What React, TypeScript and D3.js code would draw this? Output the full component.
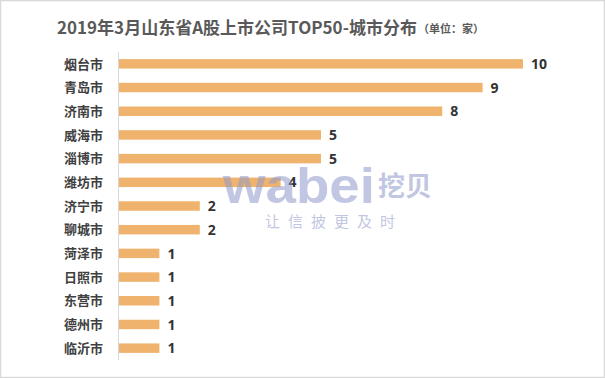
import React from "react";
import * as d3 from "d3";

const cities = ["烟台市", "青岛市", "济南市", "威海市", "淄博市", "潍坊市", "济宁市", "聊城市", "菏泽市", "日照市", "东营市", "德州市", "临沂市"];
const counts = [10, 9, 8, 5, 5, 4, 2, 2, 1, 1, 1, 1, 1];
const titleText = "2019年3月山东省A股上市公司TOP50-城市分布";
const unitText = "（单位：家）";

const W = 605;
const H = 378;
const left = 119;
const top = 52;
const bottom = 360;

export default function App() {
  const x = d3.scaleLinear().domain([0, 10]).range([left, 523]);
  const y = d3.scaleBand<string>().domain(cities).range([top, bottom]).paddingInner(0.6).paddingOuter(0.3);
  const font = "'Noto Sans CJK SC', 'Noto Sans', sans-serif";
  return (
    <svg width={W} height={H} style={{ position: "fixed", left: 0, top: 0 }} fontFamily={font}>
      <rect x={0.5} y={0.5} width={W - 1} height={H - 1} fill="#fff" stroke="#d9d9d9" strokeWidth={1.5} />
      <text x={57} y={34} fontSize={17} fontWeight="bold" fill="#595959">
        {titleText}
        <tspan fontSize={11} dx={1} dy={-1}>{unitText}</tspan>
      </text>
      {cities.map((c, i) => (
        <g key={c}>
          <rect x={x(0)} y={y(c)!} width={x(counts[i]) - x(0)} height={y.bandwidth()} fill="#EFB36D" />
          <text x={103} y={y(c)! + y.bandwidth() / 2} dy="0.36em" textAnchor="end" fontSize={13} fontWeight={600} fill="#404040">{c}</text>
          <text x={x(counts[i]) + 8} y={y(c)! + y.bandwidth() / 2} dy="0.37em" fontSize={14} fontWeight="bold" fill="#333" fontFamily="'Open Sans', 'Noto Sans', sans-serif">{counts[i]}</text>
        </g>
      ))}
      <line x1={118.5} x2={118.5} y1={top} y2={bottom} stroke="#d9d9d9" strokeWidth={1} />
      <g opacity={0.55} fill="#8f9acb">
        <text x={223} y={203} fontSize={50} fontWeight="bold" fontFamily="'Liberation Sans', Arial, sans-serif" textLength={152} lengthAdjust="spacingAndGlyphs">wabei</text>
        <text x={378} y={196} fontSize={27} fontWeight="bold">挖贝</text>
        <text x={265} y={227} fontSize={15} letterSpacing={8}>让信披更及时</text>
      </g>
    </svg>
  );
}
